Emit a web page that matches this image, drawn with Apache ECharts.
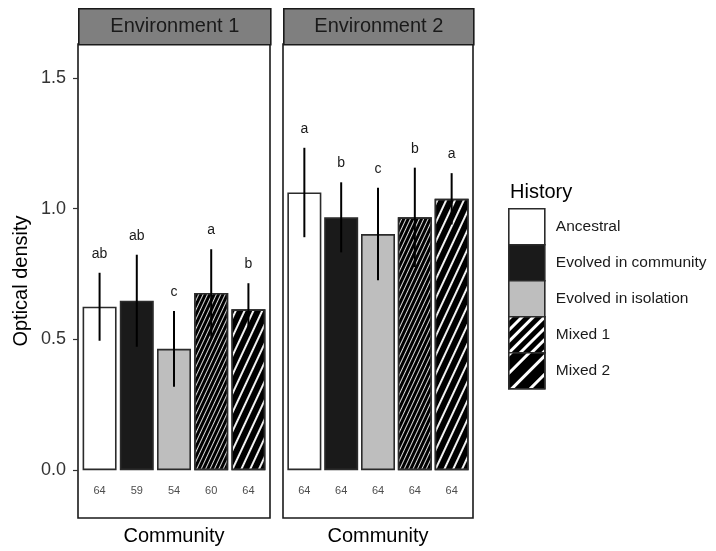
<!DOCTYPE html>
<html>
<head>
<meta charset="utf-8">
<title>Optical density by history</title>
<script src="https://cdn.jsdelivr.net/npm/echarts@6/dist/echarts.min.js"></script>
<style>
  html, body { margin: 0; padding: 0; background: #ffffff; }
  #chart { width: 716px; height: 551px; }
</style>
</head>
<body>
<div id="chart"></div>
<script>
// ---- data ----
var historyNames = ['Ancestral', 'Evolved in community', 'Evolved in isolation', 'Mixed 1', 'Mixed 2'];
var envNames = ['Environment 1', 'Environment 2'];

var env1Mean = [0.625, 0.648, 0.464, 0.678, 0.615];
var env1Err = [0.130, 0.176, 0.145, 0.167, 0.100];
var env1Letters = ['ab', 'ab', 'c', 'a', 'b'];
var env1N = [64, 59, 54, 60, 64];

var env2Mean = [1.062, 0.967, 0.903, 0.967, 1.038];
var env2Err = [0.171, 0.134, 0.177, 0.190, 0.098];
var env2Letters = ['a', 'b', 'c', 'b', 'a'];
var env2N = [64, 64, 64, 64, 64];

var yTicks = [0, 0.5, 1.0, 1.5];

// ---- layout & styling ----
var FONT = '"Liberation Sans", Arial, Helvetica, sans-serif';
var panels = [
  { left: 78, width: 192 },
  { left: 283, width: 190 }
];
var panelTop = 44, panelHeight = 475;
var stripTop = 8, stripHeight = 36;
var yMin = -0.183, yMax = 1.63;
var xMin = 0.42, xMax = 5.58;

var fills = ['#ffffff', '#1a1a1a', '#bebebe', '#000000', '#000000'];
var STEEP = -Math.PI * 65 / 180;
var barDecals = [
  null, null, null,
  { symbol: 'rect', symbolSize: 1, dashArrayX: [1, 0], dashArrayY: [1, 3], rotation: STEEP, color: 'rgba(255,255,255,0.85)' },
  { symbol: 'rect', symbolSize: 1, dashArrayX: [1, 0], dashArrayY: [2, 6], rotation: STEEP, color: 'rgba(255,255,255,0.95)' }
];
var legendDecals = [
  null, null, null,
  { symbol: 'rect', symbolSize: 1, dashArrayX: [1, 0], dashArrayY: [3, 5], rotation: -Math.PI / 4, color: '#ffffff' },
  { symbol: 'rect', symbolSize: 1, dashArrayX: [1, 0], dashArrayY: [3, 10], rotation: -Math.PI / 4, color: '#ffffff' }
];

function barStyle(i, decals) {
  var s = { color: fills[i], borderColor: '#2b2b2b', borderWidth: 1.6 };
  if (decals[i]) s.decal = decals[i];
  return s;
}

var envData = [
  { mean: env1Mean, err: env1Err, letters: env1Letters, n: env1N },
  { mean: env2Mean, err: env2Err, letters: env2Letters, n: env2N }
];

var grids = [], xAxes = [], yAxes = [], series = [], graphics = [];

panels.forEach(function (p, k) {
  grids.push({
    left: p.left, top: panelTop, width: p.width, height: panelHeight,
    show: true, backgroundColor: '#ffffff', borderColor: '#1a1a1a', borderWidth: 1.6
  });
  xAxes.push({
    type: 'value', gridIndex: k, min: xMin, max: xMax,
    axisLine: { show: false }, axisTick: { show: false }, axisLabel: { show: false },
    splitLine: { show: false },
    name: 'Community', nameLocation: 'middle', nameGap: 8,
    nameTextStyle: { fontFamily: FONT, fontSize: 20, color: '#000000', verticalAlign: 'top' }
  });
  yAxes.push({
    type: 'value', gridIndex: k, min: yMin, max: yMax,
    axisLine: { show: false },
    splitLine: { show: false },
    axisTick: { show: k === 0, customValues: yTicks, length: 5, lineStyle: { color: '#333333', width: 1.2 } },
    axisLabel: {
      show: k === 0, customValues: yTicks, margin: 12,
      fontFamily: FONT, fontSize: 18, color: '#333333',
      formatter: function (v) { return v.toFixed(1); }
    },
    name: k === 0 ? 'Optical density' : '', nameLocation: 'middle', nameGap: 47,
    nameTextStyle: { fontFamily: FONT, fontSize: 20, color: '#000000' }
  });

  var d = envData[k];
  historyNames.forEach(function (name, i) {
    series.push({
      type: 'bar', name: name, xAxisIndex: k, yAxisIndex: k,
      barWidth: 34, barGap: '-100%',
      data: [[i + 1, d.mean[i]]],
      itemStyle: barStyle(i, barDecals),
      emphasis: { disabled: true },
      z: 2
    });
  });

  // error bars, group letters and sample sizes
  series.push({
    type: 'custom', xAxisIndex: k, yAxisIndex: k, z: 5, silent: true,
    data: d.mean.map(function (m, i) { return [i + 1, m, d.err[i]]; }),
    renderItem: function (params, api) {
      var i = params.dataIndex;
      var x = api.value(0), m = api.value(1), e = api.value(2);
      var top = api.coord([x, m + e]);
      var bot = api.coord([x, m - e]);
      var base = api.coord([x, 0]);
      return {
        type: 'group',
        children: [
          { type: 'line', shape: { x1: top[0], y1: top[1], x2: bot[0], y2: bot[1] },
            style: { stroke: '#000000', lineWidth: 2 } },
          { type: 'text', style: { x: top[0], y: top[1] - 19, text: d.letters[i],
              fontFamily: FONT, fontSize: 14, fill: '#1a1a1a', align: 'center', verticalAlign: 'middle' } },
          { type: 'text', style: { x: base[0], y: base[1] + 21, text: String(d.n[i]),
              fontFamily: FONT, fontSize: 11, fill: '#4d4d4d', align: 'center', verticalAlign: 'middle' } }
        ]
      };
    }
  });

  // facet strip
  graphics.push({
    type: 'group', left: p.left, top: stripTop,
    children: [
      { type: 'rect', shape: { x: 0, y: 0, width: p.width, height: stripHeight },
        style: { fill: '#7f7f7f', stroke: '#1a1a1a', lineWidth: 1.6 } },
      { type: 'text', x: p.width / 2, y: stripHeight / 2,
        style: { text: envNames[k], fontFamily: FONT, fontSize: 20, fill: '#1a1a1a',
                 align: 'center', verticalAlign: 'middle' } }
    ]
  });
});

var chart = echarts.init(document.getElementById('chart'), null, { renderer: 'canvas' });
chart.setOption({
  backgroundColor: '#ffffff',
  animation: false,
  title: {
    text: 'History', left: 505, top: 177,
    textStyle: { fontFamily: FONT, fontSize: 20, fontWeight: 'normal', color: '#000000' }
  },
  legend: {
    orient: 'vertical', left: 503, top: 203,
    itemWidth: 36, itemHeight: 36, itemGap: -1.6,
    icon: 'rect', selectedMode: false,
    textStyle: { fontFamily: FONT, fontSize: 15.5, color: '#1a1a1a', padding: [0, 0, 0, 6] },
    data: historyNames.map(function (name, i) {
      return { name: name, icon: 'rect', itemStyle: barStyle(i, legendDecals) };
    })
  },
  grid: grids,
  xAxis: xAxes,
  yAxis: yAxes,
  series: series,
  graphic: graphics
});
</script>
</body>
</html>
